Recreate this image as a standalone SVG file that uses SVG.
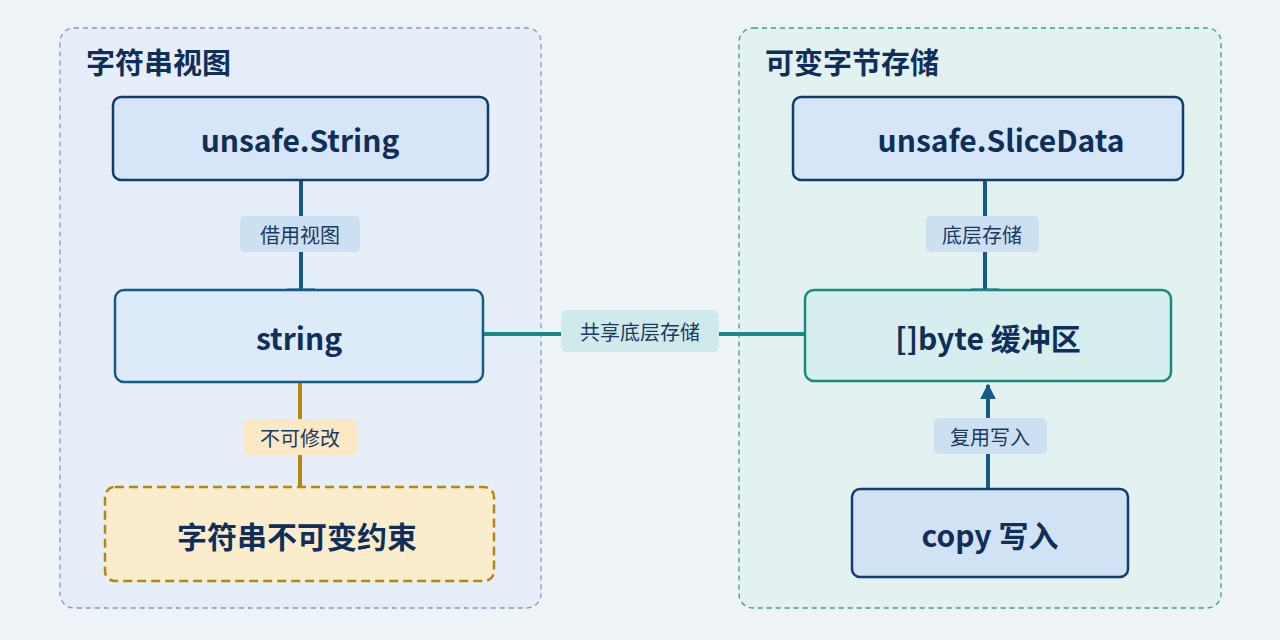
<svg xmlns="http://www.w3.org/2000/svg" width="1280" height="640" viewBox="0 0 1280 640">
<style>
text{font-family:"Noto Sans CJK SC","Noto Sans",sans-serif;text-anchor:middle;dominant-baseline:central}
.t{font-size:30px;font-weight:700;fill:#0f2f5a}
.h{font-size:29px;font-weight:700;fill:#0f2f5a;text-anchor:start}
.l{font-size:20px;fill:#1a3a63}
</style>
<defs>
<marker id="ar" viewBox="0 0 10 10" refX="9" refY="5" markerWidth="4" markerHeight="4" orient="auto"><path d="M0,0L10,5L0,10z" fill="#155a8a"/></marker>
<linearGradient id="bg" x1="0" x2="1"><stop offset="0" stop-color="#eef3f8"/><stop offset="1" stop-color="#eef4f5"/></linearGradient>
</defs>
<rect width="1280" height="640" fill="url(#bg)"/>
<g id="group-left"><rect x="60" y="28" width="481" height="580" rx="14" fill="#e6eff9" stroke="#7d9cc0" stroke-width="1.3" stroke-dasharray="5 4"/><text class="h" x="86" y="61">字符串视图</text></g>
<g id="group-right"><rect x="739" y="28" width="482" height="580" rx="14" fill="#e3f1f1" stroke="#3a9e9a" stroke-width="1.3" stroke-dasharray="5 4"/><text class="h" x="765" y="61">可变字节存储</text></g>
<g id="connectors" fill="none" stroke-width="4">
<path d="M301,180V291" stroke="#155a8a"/><path d="M287,291H315" stroke="#155a8a" stroke-width="5"/>
<path d="M300,382V488" stroke="#b8860b"/>
<path d="M483,334H806" stroke="#178a8a"/>
<path d="M985,180V291" stroke="#155a8a"/><path d="M971,291H999" stroke="#155a8a" stroke-width="5"/>
<path d="M988,490V385" stroke="#155a8a" marker-end="url(#ar)"/>
<rect x="240" y="216" width="120" height="36" rx="5" fill="#cde0f2" stroke="none"/><text class="l" x="300" y="234">借用视图</text>
<rect x="244" y="419" width="113" height="36" rx="5" fill="#fbe8c4" stroke="none"/><text class="l" x="300" y="437">不可修改</text>
<rect x="561" y="310" width="158" height="42" rx="6" fill="#cfeaea" stroke="none"/><text class="l" x="640" y="331">共享底层存储</text>
<rect x="926" y="216" width="113" height="36" rx="5" fill="#cde0f2" stroke="none"/><text class="l" x="982" y="234">底层存储</text>
<rect x="934" y="418" width="113" height="36" rx="5" fill="#cde0f2" stroke="none"/><text class="l" x="990" y="436">复用写入</text>
</g>
<g id="n-unsafe-string"><rect x="113" y="97" width="375" height="83" rx="8" fill="#d6e6f8" stroke="#0f3d6e" stroke-width="2.5"/><text class="t" x="300" y="139">unsafe.String</text></g>
<g id="n-string"><rect x="115" y="290" width="368" height="92" rx="9" fill="#ddebf9" stroke="#155a8a" stroke-width="2.5"/><text class="t" x="299" y="337">string</text></g>
<g id="n-constraint"><rect x="105" y="487" width="389" height="94" rx="10" fill="#fbeccb" stroke="#b8860b" stroke-width="2.5" stroke-dasharray="9 5"/><text class="t" x="297" y="535">字符串不可变约束</text></g>
<g id="n-slicedata"><rect x="793" y="97" width="390" height="83" rx="8" fill="#d6e6f8" stroke="#0f3d6e" stroke-width="2.5"/><text class="t" x="1001" y="139">unsafe.SliceData</text></g>
<g id="n-byte"><rect x="805" y="290" width="366" height="91" rx="9" fill="#d7eeee" stroke="#178a7e" stroke-width="2.5"/><text class="t" x="988" y="337">[]byte 缓冲区</text></g>
<g id="n-copy"><rect x="852" y="489" width="276" height="88" rx="8" fill="#d0e2f4" stroke="#0f3d6e" stroke-width="2.5"/><text class="t" x="990" y="534">copy 写入</text></g>
</svg>
